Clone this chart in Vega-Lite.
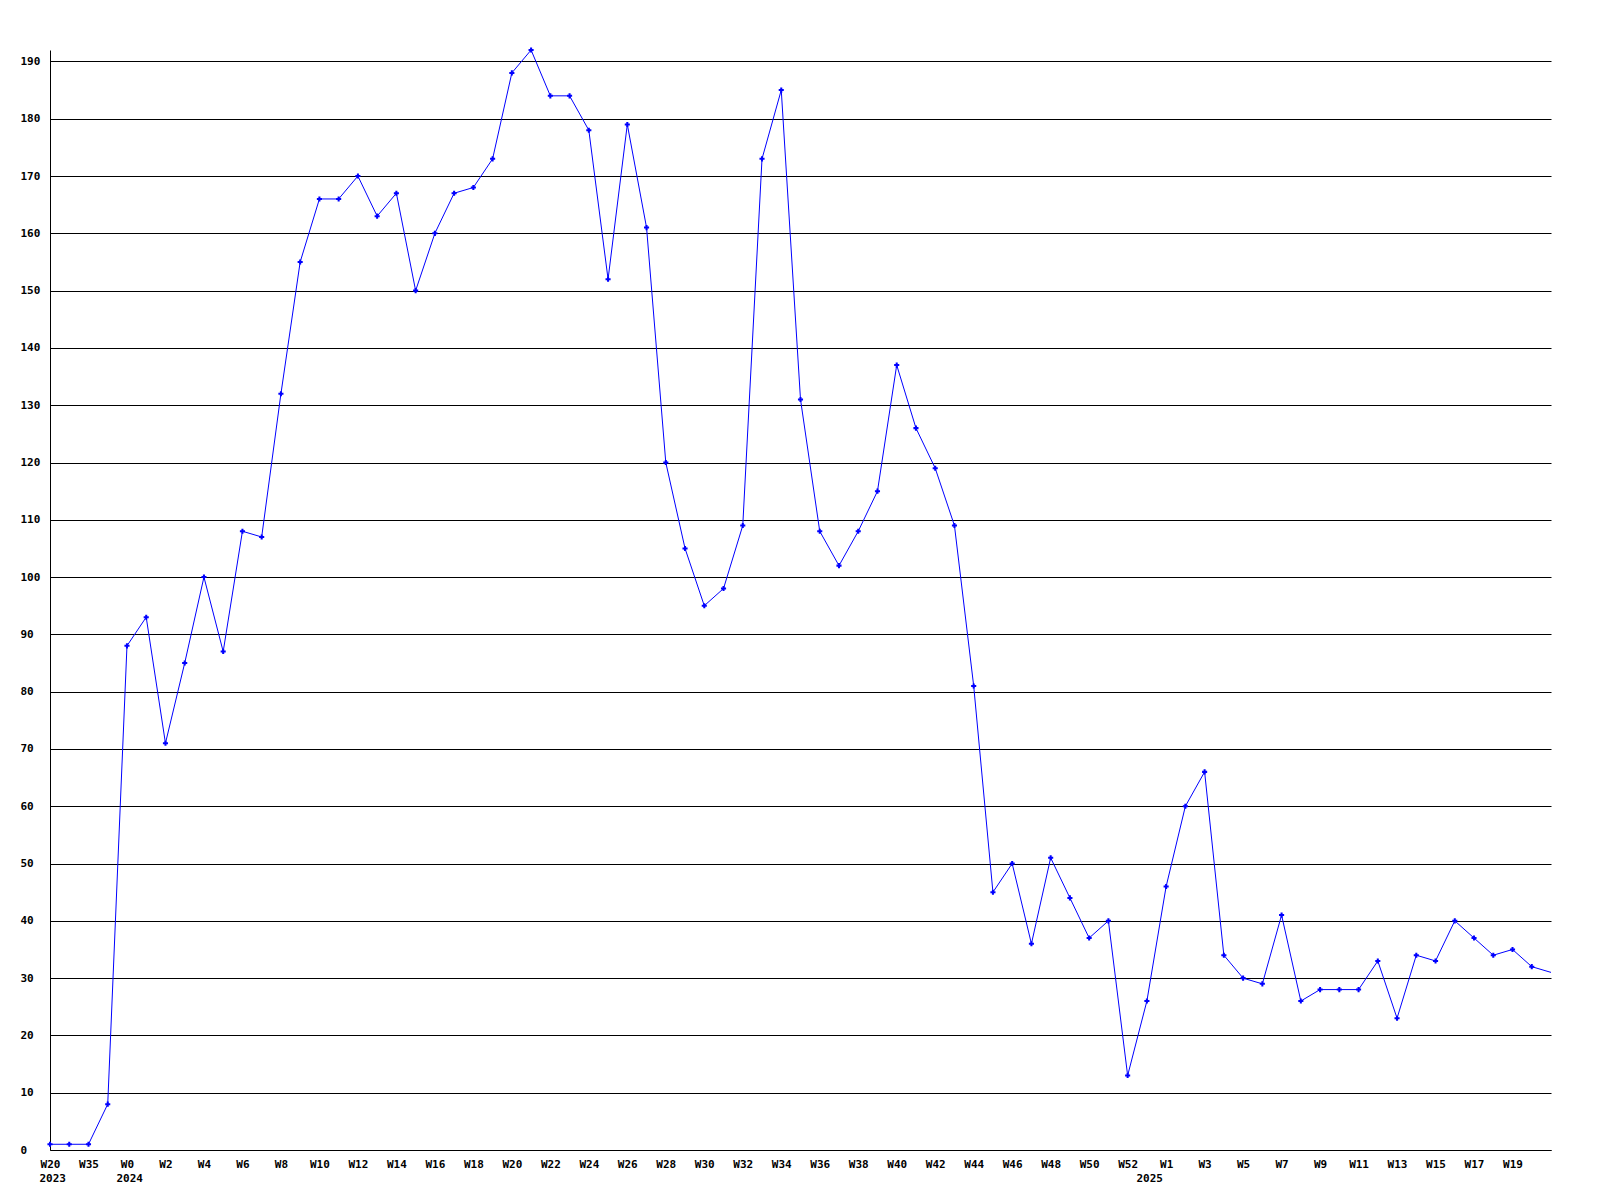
{
  "$schema": "https://vega.github.io/schema/vega-lite/v6.json",
  "width": 1501,
  "height": 1100,
  "autosize": "none",
  "padding": {"left": 50, "top": 50, "right": 49, "bottom": 50},
  "background": "white",
  "config": {
    "view": {"stroke": null},
    "axis": {"labelFont": "DejaVu Sans Mono", "labelFontWeight": "bold", "labelFontSize": 11, "labelColor": "black"}
  },
  "data": {
    "values": [
      {"wk": "2023-W20", "v": 1}, {"wk": "2023-W28", "v": 1}, {"wk": "2023-W35", "v": 1}, {"wk": "2023-W44", "v": 8},
      {"wk": "2024-W00", "v": 88}, {"wk": "2024-W01", "v": 93}, {"wk": "2024-W02", "v": 71}, {"wk": "2024-W03", "v": 85},
      {"wk": "2024-W04", "v": 100}, {"wk": "2024-W05", "v": 87}, {"wk": "2024-W06", "v": 108}, {"wk": "2024-W07", "v": 107},
      {"wk": "2024-W08", "v": 132}, {"wk": "2024-W09", "v": 155}, {"wk": "2024-W10", "v": 166}, {"wk": "2024-W11", "v": 166},
      {"wk": "2024-W12", "v": 170}, {"wk": "2024-W13", "v": 163}, {"wk": "2024-W14", "v": 167}, {"wk": "2024-W15", "v": 150},
      {"wk": "2024-W16", "v": 160}, {"wk": "2024-W17", "v": 167}, {"wk": "2024-W18", "v": 168}, {"wk": "2024-W19", "v": 173},
      {"wk": "2024-W20", "v": 188}, {"wk": "2024-W21", "v": 192}, {"wk": "2024-W22", "v": 184}, {"wk": "2024-W23", "v": 184},
      {"wk": "2024-W24", "v": 178}, {"wk": "2024-W25", "v": 152}, {"wk": "2024-W26", "v": 179}, {"wk": "2024-W27", "v": 161},
      {"wk": "2024-W28", "v": 120}, {"wk": "2024-W29", "v": 105}, {"wk": "2024-W30", "v": 95}, {"wk": "2024-W31", "v": 98},
      {"wk": "2024-W32", "v": 109}, {"wk": "2024-W33", "v": 173}, {"wk": "2024-W34", "v": 185}, {"wk": "2024-W35", "v": 131},
      {"wk": "2024-W36", "v": 108}, {"wk": "2024-W37", "v": 102}, {"wk": "2024-W38", "v": 108}, {"wk": "2024-W39", "v": 115},
      {"wk": "2024-W40", "v": 137}, {"wk": "2024-W41", "v": 126}, {"wk": "2024-W42", "v": 119}, {"wk": "2024-W43", "v": 109},
      {"wk": "2024-W44", "v": 81}, {"wk": "2024-W45", "v": 45}, {"wk": "2024-W46", "v": 50}, {"wk": "2024-W47", "v": 36},
      {"wk": "2024-W48", "v": 51}, {"wk": "2024-W49", "v": 44}, {"wk": "2024-W50", "v": 37}, {"wk": "2024-W51", "v": 40},
      {"wk": "2024-W52", "v": 13},
      {"wk": "2025-W00", "v": 26}, {"wk": "2025-W01", "v": 46}, {"wk": "2025-W02", "v": 60}, {"wk": "2025-W03", "v": 66},
      {"wk": "2025-W04", "v": 34}, {"wk": "2025-W05", "v": 30}, {"wk": "2025-W06", "v": 29}, {"wk": "2025-W07", "v": 41},
      {"wk": "2025-W08", "v": 26}, {"wk": "2025-W09", "v": 28}, {"wk": "2025-W10", "v": 28}, {"wk": "2025-W11", "v": 28},
      {"wk": "2025-W12", "v": 33}, {"wk": "2025-W13", "v": 23}, {"wk": "2025-W14", "v": 34}, {"wk": "2025-W15", "v": 33},
      {"wk": "2025-W16", "v": 40}, {"wk": "2025-W17", "v": 37}, {"wk": "2025-W18", "v": 34}, {"wk": "2025-W19", "v": 35},
      {"wk": "2025-W20", "v": 32}, {"wk": "2025-W21", "v": 31}
    ]
  },
  "resolve": {"axis": {"x": "independent"}},
  "layer": [
    {
      "mark": {"type": "line", "color": "#0000FF", "strokeWidth": 1, "interpolate": "linear"},
      "encoding": {
        "x": {
          "field": "wk", "type": "ordinal", "sort": null,
          "scale": {"type": "point", "padding": 0},
          "axis": {
            "orient": "bottom", "title": null, "grid": false, "ticks": false, "tickSize": 0,
            "domain": true, "domainColor": "black", "domainWidth": 1,
            "labelAngle": 0, "labelPadding": 8, "labelBaseline": "top", "labelAlign": "center",
            "labelOverlap": false,
            "values": ["2023-W20", "2023-W35", "2024-W00", "2024-W02", "2024-W04", "2024-W06", "2024-W08", "2024-W10", "2024-W12", "2024-W14", "2024-W16", "2024-W18", "2024-W20", "2024-W22", "2024-W24", "2024-W26", "2024-W28", "2024-W30", "2024-W32", "2024-W34", "2024-W36", "2024-W38", "2024-W40", "2024-W42", "2024-W44", "2024-W46", "2024-W48", "2024-W50", "2024-W52", "2025-W01", "2025-W03", "2025-W05", "2025-W07", "2025-W09", "2025-W11", "2025-W13", "2025-W15", "2025-W17", "2025-W19"],
            "labelExpr": "'W' + toNumber(substring(datum.value, 6))"
          }
        },
        "y": {
          "field": "v", "type": "quantitative",
          "scale": {"domain": [0, 192], "nice": false, "zero": true},
          "axis": {
            "title": null, "values": [0, 10, 20, 30, 40, 50, 60, 70, 80, 90, 100, 110, 120, 130, 140, 150, 160, 170, 180, 190],
            "grid": true, "gridColor": "black", "gridOpacity": 1, "gridWidth": 1,
            "ticks": false, "tickSize": 0, "domain": true, "domainColor": "black", "domainWidth": 1,
            "labelAlign": "left", "labelPadding": 30, "labelBaseline": "middle"
          }
        }
      }
    },
    {
      "transform": [{"filter": "datum.wk != '2025-W21'"}],
      "mark": {"type": "point", "shape": "cross", "filled": true, "color": "#0000FF", "size": 26, "opacity": 1},
      "encoding": {
        "x": {
          "field": "wk", "type": "ordinal", "sort": null,
          "axis": {
            "orient": "bottom", "title": null, "grid": false, "ticks": false, "tickSize": 0, "domain": false,
            "offset": 14, "labelAngle": 0, "labelPadding": 8, "labelBaseline": "top", "labelAlign": "left",
            "labelOffset": -11, "labelOverlap": false,
            "values": ["2023-W20", "2024-W00", "2025-W00"],
            "labelExpr": "substring(datum.value, 0, 4)"
          }
        },
        "y": {"field": "v", "type": "quantitative"}
      }
    }
  ]
}
